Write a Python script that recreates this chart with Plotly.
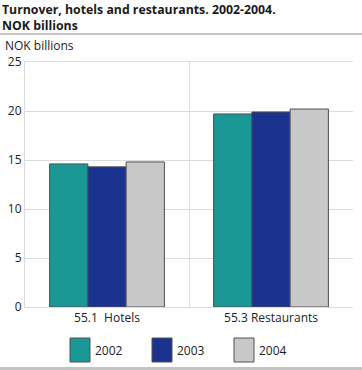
import plotly.graph_objects as go

categories = ["55.1\u00a0 Hotels", "55.3 Restaurants"]
years = ["2002", "2003", "2004"]
values_2002 = [14.6, 19.7]
values_2003 = [14.3, 19.9]
values_2004 = [14.8, 20.2]
series = [values_2002, values_2003, values_2004]
colors = ["#1a9896", "#1b338f", "#c8c8c8"]
title_text = "<b>Turnover, hotels and restaurants. 2002-2004.<br>NOK billions</b>"
y_title = "NOK billions"
y_ticks = [0, 5, 10, 15, 20, 25]

FONT = "Open Sans"
TXT = "#222222"

fig = go.Figure()
for yr, vals, col in zip(years, series, colors):
    fig.add_trace(go.Bar(
        x=categories, y=vals, name=yr,
        marker=dict(color=col, line=dict(color="#505050", width=1)),
        showlegend=False,
    ))

shapes = []
annotations = []
# manual legend
for i, (yr, col) in enumerate(zip(years, colors)):
    left = 45 + i * 82
    shapes.append(dict(type="rect", xref="paper", yref="paper",
                       xsizemode="pixel", ysizemode="pixel",
                       xanchor=0, yanchor=0,
                       x0=left, x1=left + 20, y0=-31, y1=-55,
                       fillcolor=col, line=dict(color="#505050", width=1)))
    annotations.append(dict(text=yr, xref="paper", yref="paper", x=0, y=0,
                            xshift=left + 23, yshift=-43,
                            xanchor="left", yanchor="middle", showarrow=False,
                            font=dict(family=FONT, size=12, color=TXT)))
# title rule and footer rule
shapes.append(dict(type="line", xref="paper", yref="paper",
                   xsizemode="pixel", ysizemode="pixel", xanchor=0, yanchor=1,
                   x0=-25, x1=337, y0=28, y1=28,
                   line=dict(color="#c4c4c4", width=2)))
shapes.append(dict(type="line", xref="paper", yref="paper",
                   xsizemode="pixel", ysizemode="pixel", xanchor=0, yanchor=0,
                   x0=-25, x1=337, y0=-61.5, y1=-61.5,
                   line=dict(color="#c4c4c4", width=3)))
# title
annotations.append(dict(text=title_text, xref="paper", yref="paper",
                        x=0, y=1, xshift=-24, yshift=62, align="left",
                        xanchor="left", yanchor="top", showarrow=False,
                        borderpad=0,
                        font=dict(family=FONT, size=12.3, color="#1a1a1a")))
annotations.append(dict(text=y_title, xref="paper", yref="paper", x=0, y=1,
                        xshift=-22, yshift=17, xanchor="left", yanchor="middle",
                        showarrow=False, font=dict(family=FONT, size=12, color=TXT)))

fig.update_layout(
    width=362, height=370,
    margin=dict(l=25, r=9, t=62, b=63),
    paper_bgcolor="white", plot_bgcolor="white",
    barmode="group", bargap=0.3, bargroupgap=0,
    font=dict(family=FONT, size=12, color=TXT),
    xaxis=dict(type="category", tickson="boundaries", showgrid=True,
               gridcolor="#dcdcdc", gridwidth=1, ticks="", showline=True,
               linecolor="#dcdcdc", mirror=True,
               tickfont=dict(family=FONT, size=12, color=TXT)),
    yaxis=dict(range=[0, 25], tickvals=y_ticks, showgrid=True,
               gridcolor="#dcdcdc", gridwidth=1, zeroline=False, ticks="",
               showline=True, linecolor="#dcdcdc",
               tickfont=dict(family=FONT, size=12, color=TXT)),
    shapes=shapes, annotations=annotations,
)

fig.write_html("out.html", config={"displayModeBar": False},
               post_script="document.body.style.margin='0';")
